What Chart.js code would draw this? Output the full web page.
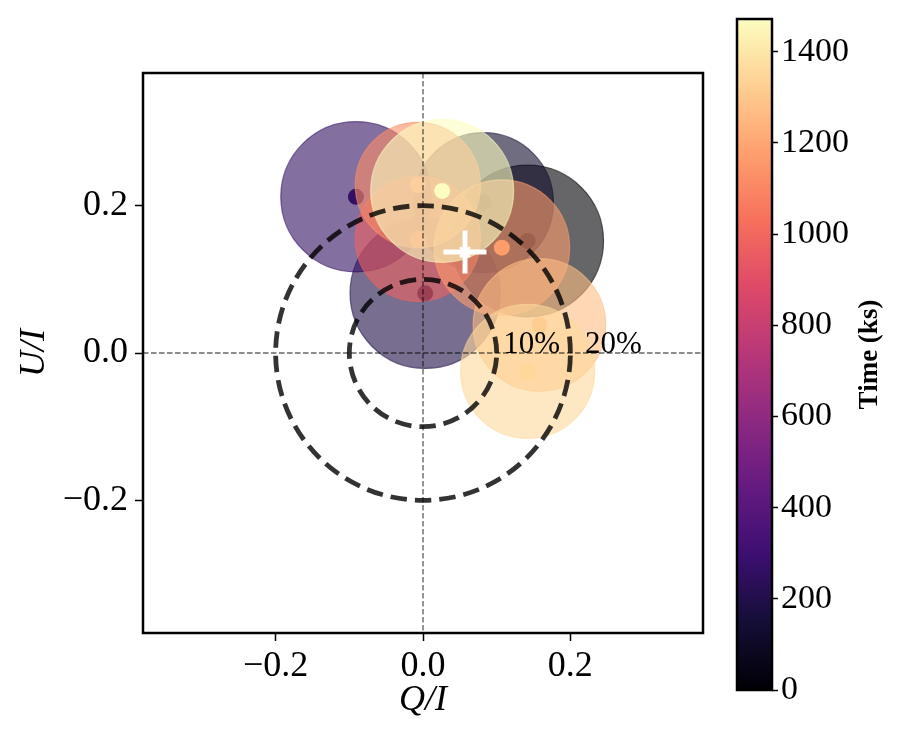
<!DOCTYPE html>
<html>
<head>
<meta charset="utf-8">
<script src="https://cdn.jsdelivr.net/npm/chart.js@4.4.0/dist/chart.umd.min.js"></script>
<style>
  html, body { margin: 0; padding: 0; background: #fff; }
  #wrap { position: relative; width: 900px; height: 750px; }
  #main { position: absolute; left: 0; top: 0; }
  #cbar { position: absolute; left: 720px; top: 0; }
</style>
</head>
<body>
<div id="wrap">
  <canvas id="main" width="720" height="750"></canvas>
  <canvas id="cbar" width="180" height="750"></canvas>
</div>
<script>
// observation times (ks), polarisation Q/I, U/I and 1-sigma error radius
const times = [0, 120, 185, 260, 980, 1120, 1170, 1265, 1355, 1472];
const qVals = [0.142, 0.082, 0.003, -0.091, -0.007, -0.007, 0.107, 0.158, 0.142, 0.026];
const uVals = [0.152, 0.204, 0.081, 0.212, 0.155, 0.228, 0.143, 0.038, -0.025, 0.220];
const errR  = [0.103, 0.095, 0.102, 0.102, 0.085, 0.085, 0.092, 0.090, 0.091, 0.097];

// time-averaged value (white cross)
const avgQ = [0.057];
const avgU = [0.137];

const ringRadii = [0.1, 0.2];
const ringLabels = ['10%', '20%'];
const ringLabelX = [0.109, 0.220];

const axisTicks = [-0.2, 0.0, 0.2];
const cbarTicks = [0, 200, 400, 600, 800, 1000, 1200, 1400];

const SERIF = '"Liberation Serif", "DejaVu Serif", serif';
Chart.defaults.font.family = SERIF;

// magma colormap
const magmaStops = [
  [0, 0, 4], [20, 14, 54], [59, 15, 112], [100, 26, 128], [140, 41, 129],
  [183, 55, 121], [222, 73, 104], [247, 112, 92], [254, 159, 109], [254, 207, 146], [252, 253, 191]
];
function magma(f, a) {
  f = Math.max(0, Math.min(1, f));
  const p = f * (magmaStops.length - 1);
  const i = Math.min(Math.floor(p), magmaStops.length - 2);
  const w = p - i;
  const c = magmaStops[i].map((v, k) => Math.round(v + (magmaStops[i + 1][k] - v) * w));
  return 'rgba(' + c[0] + ',' + c[1] + ',' + c[2] + ',' + (a === undefined ? 1 : a) + ')';
}

const tMin = Math.min(...times);
const tMax = Math.max(...times);
const norm = t => (t - tMin) / (tMax - tMin);

function fmt(v) {
  return (v < -1e-9 ? '\u2212' : '') + Math.abs(v).toFixed(1);
}

function pxLen(chart, v) {
  const s = chart.scales.x;
  return Math.abs(s.getPixelForValue(v) - s.getPixelForValue(0));
}

// each observation: error circle followed by its centre dot
const pts = [];
times.forEach((t, i) => {
  pts.push({ x: qVals[i], y: uVals[i], k: 'err', i: i });
  pts.push({ x: qVals[i], y: uVals[i], k: 'dot', i: i });
});

const overlay = {
  id: 'overlay',
  afterDatasetsDraw(chart) {
    const ctx = chart.ctx;
    const xs = chart.scales.x, ys = chart.scales.y;
    const area = chart.chartArea;
    const x0 = xs.getPixelForValue(0), y0 = ys.getPixelForValue(0);
    ctx.save();
    // zero lines
    ctx.strokeStyle = 'rgba(0,0,0,0.6)';
    ctx.lineWidth = 1.4;
    ctx.setLineDash([5.5, 2.5]);
    ctx.beginPath();
    ctx.moveTo(x0, area.top); ctx.lineTo(x0, area.bottom);
    ctx.moveTo(area.left, y0); ctx.lineTo(area.right, y0);
    ctx.stroke();
    // polarisation degree rings
    ctx.strokeStyle = 'rgba(0,0,0,0.8)';
    ctx.lineWidth = 4.8;
    ctx.setLineDash([16.5, 8]);
    ringRadii.forEach(r => {
      ctx.beginPath();
      ctx.arc(x0, y0, pxLen(chart, r), 0, -Math.PI * 2, true);
      ctx.stroke();
    });
    ctx.setLineDash([]);
    ctx.fillStyle = '#000';
    ctx.font = '31px ' + SERIF;
    ctx.textAlign = 'left';
    ctx.textBaseline = 'alphabetic';
    ringLabels.forEach((s, i) => {
      ctx.fillText(s, xs.getPixelForValue(ringLabelX[i]), y0);
    });
    ctx.restore();
  },
  afterDraw(chart) {
    const ctx = chart.ctx, a = chart.chartArea;
    ctx.save();
    ctx.strokeStyle = '#000';
    ctx.lineWidth = 2.5;
    ctx.strokeRect(a.left, a.top, a.right - a.left, a.bottom - a.top);
    ctx.restore();
  }
};

new Chart(document.getElementById('main'), {
  type: 'scatter',
  data: {
    datasets: [
      {
        order: 0,
        data: avgQ.map((q, i) => ({ x: q, y: avgU[i] })),
        pointStyle: 'cross',
        pointRadius: 21.5,
        pointBorderColor: '#fff',
        pointBorderWidth: 5
      },
      {
        order: 0,
        data: avgQ.map((q, i) => ({ x: q, y: avgU[i] })),
        pointStyle: 'star',
        pointRadius: 7,
        pointBorderColor: '#fff',
        pointBorderWidth: 2.5
      },
      {
        order: 1,
        data: pts,
        pointStyle: 'circle',
        pointRadius: ctx => {
          const p = pts[ctx.dataIndex];
          return p.k === 'err' ? pxLen(ctx.chart, errR[p.i]) : 8;
        },
        pointBackgroundColor: ctx => {
          const p = pts[ctx.dataIndex];
          return magma(norm(times[p.i]), p.k === 'err' ? 0.6 : 1);
        },
        pointBorderColor: ctx => {
          const p = pts[ctx.dataIndex];
          return magma(norm(times[p.i]), 0.6);
        },
        pointBorderWidth: ctx => pts[ctx.dataIndex].k === 'err' ? 1.2 : 0
      }
    ]
  },
  options: {
    responsive: false,
    animation: false,
    events: [],
    layout: { autoPadding: false, padding: { left: 0, right: 17, top: 73, bottom: 0 } },
    plugins: { legend: { display: false }, tooltip: { enabled: false } },
    scales: {
      x: {
        type: 'linear', min: -0.38, max: 0.38,
        afterBuildTicks: s => { s.ticks = axisTicks.map(v => ({ value: v })); },
        ticks: { callback: v => fmt(v), font: { size: 36 }, color: '#000', padding: 4, maxRotation: 0 },
        grid: { drawOnChartArea: false, drawTicks: true, tickLength: 8, tickColor: '#000', tickWidth: 1.5 },
        border: { display: false },
        title: { display: true, text: 'Q/I', color: '#000', font: { size: 36, style: 'italic' }, padding: { top: 0, bottom: 28 } },
        afterFit: s => { s.height = 117; s.paddingLeft = 0; s.paddingRight = 0; }
      },
      y: {
        type: 'linear', min: -0.38, max: 0.38,
        afterBuildTicks: s => { s.ticks = axisTicks.map(v => ({ value: v })); },
        ticks: { callback: v => fmt(v), font: { size: 36 }, color: '#000', padding: 7 },
        grid: { drawOnChartArea: false, drawTicks: true, tickLength: 8, tickColor: '#000', tickWidth: 1.5 },
        border: { display: false },
        title: { display: true, text: 'U/I', color: '#000', font: { size: 36, style: 'italic' }, padding: { top: 13, bottom: 0 } },
        afterFit: s => { s.width = 143; s.paddingTop = 0; s.paddingBottom = 0; }
      }
    }
  },
  plugins: [overlay]
});

// colour bar
const cbarPlugin = {
  id: 'cbarFill',
  beforeDatasetsDraw(chart) {
    const ctx = chart.ctx, a = chart.chartArea;
    const g = ctx.createLinearGradient(0, a.bottom, 0, a.top);
    magmaStops.forEach((c, i) => g.addColorStop(i / (magmaStops.length - 1), 'rgb(' + c.join(',') + ')'));
    ctx.save();
    ctx.fillStyle = g;
    ctx.fillRect(a.left, a.top, a.right - a.left, a.bottom - a.top);
    ctx.restore();
  },
  afterDraw(chart) {
    const ctx = chart.ctx, a = chart.chartArea;
    ctx.save();
    ctx.strokeStyle = '#000';
    ctx.lineWidth = 2.5;
    ctx.strokeRect(a.left, a.top, a.right - a.left, a.bottom - a.top);
    ctx.translate(150, (a.top + a.bottom) / 2);
    ctx.rotate(-Math.PI / 2);
    ctx.fillStyle = '#000';
    ctx.font = 'bold 27px ' + SERIF;
    ctx.textAlign = 'center';
    ctx.textBaseline = 'middle';
    ctx.fillText('Time (ks)', 0, 0);
    ctx.restore();
  }
};

new Chart(document.getElementById('cbar'), {
  type: 'scatter',
  data: { datasets: [] },
  options: {
    responsive: false,
    animation: false,
    events: [],
    layout: { autoPadding: false, padding: { left: 17, right: 0, top: 19, bottom: 60 } },
    plugins: { legend: { display: false }, tooltip: { enabled: false } },
    scales: {
      x: { display: false, min: 0, max: 1 },
      y: {
        position: 'right', min: tMin, max: tMax,
        afterBuildTicks: s => { s.ticks = cbarTicks.map(v => ({ value: v })); },
        ticks: { callback: v => String(v), font: { size: 34 }, color: '#000', padding: 3 },
        grid: { drawOnChartArea: false, drawTicks: true, tickLength: 6, tickColor: '#000', tickWidth: 1.5 },
        border: { display: false },
        afterFit: s => { s.width = 128; s.paddingTop = 0; s.paddingBottom = 0; }
      }
    }
  },
  plugins: [cbarPlugin]
});
</script>
</body>
</html>
